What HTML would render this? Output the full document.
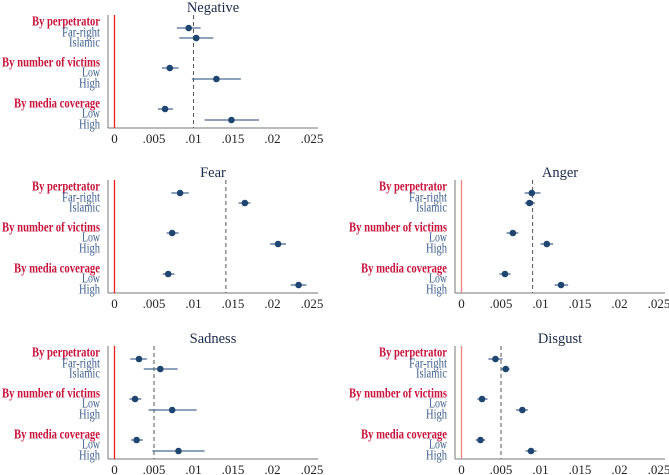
<!DOCTYPE html>
<html><head><meta charset="utf-8">
<style>
html,body{margin:0;padding:0;background:#fff;}
svg{display:block;font-family:"Liberation Serif",serif;}
</style></head>
<body>
<svg id="chart" width="669" height="475" viewBox="0 0 669 475"></svg>
<script>
const groups = ["By perpetrator","By number of victims","By media coverage"];
const categories = [["Far-right","Islamic"],["Low","High"],["Low","High"]];
const xTicks = [0,0.005,0.01,0.015,0.02,0.025];
const xTickLabels = ["0",".005",".01",".015",".02",".025"];
const panelTitles = ["Negative","Fear","Anger","Sadness","Disgust"];
const refLines = [0.01,0.0141,0.009,0.005,0.005];
const estNegative = [0.00939,0.01035,0.0070,0.0129,0.0064,0.0148];
const loNegative  = [0.0079,0.0082,0.0060,0.0098,0.0055,0.0114];
const hiNegative  = [0.0109,0.0125,0.0081,0.0160,0.0074,0.0183];
const estFear = [0.0083,0.0165,0.0073,0.0207,0.0068,0.0233];
const loFear  = [0.0072,0.0157,0.0066,0.0197,0.0061,0.0223];
const hiFear  = [0.0094,0.0172,0.0081,0.0217,0.0076,0.0243];
const estAnger = [0.0089,0.0086,0.0065,0.0108,0.0055,0.0126];
const loAnger  = [0.0080,0.0080,0.0057,0.0100,0.0048,0.0118];
const hiAnger  = [0.0100,0.0093,0.0072,0.0116,0.0062,0.0135];
const estSadness = [0.0031,0.0058,0.0026,0.0073,0.0028,0.0081];
const loSadness  = [0.0020,0.0037,0.0019,0.0043,0.0021,0.0048];
const hiSadness  = [0.0041,0.0080,0.0034,0.0104,0.0036,0.0114];
const estDisgust = [0.0043,0.0056,0.0026,0.0077,0.0024,0.0088];
const loDisgust  = [0.0034,0.0050,0.0020,0.0069,0.0018,0.0081];
const hiDisgust  = [0.0052,0.0061,0.0033,0.0084,0.0030,0.0095];
const estAll=[estNegative,estFear,estAnger,estSadness,estDisgust];
const loAll=[loNegative,loFear,loAnger,loSadness,loDisgust];
const hiAll=[hiNegative,hiFear,hiAnger,hiSadness,hiDisgust];

const NS="http://www.w3.org/2000/svg";
const svg=document.getElementById('chart');
function mk(tag,attrs,parent,text){const e=document.createElementNS(NS,tag);for(const k in attrs)e.setAttribute(k,attrs[k]);if(text!==undefined)e.textContent=text;parent.appendChild(e);return e;}
const widths={"By perpetrator":68,"By number of victims":98,"By media coverage":86,"Far-right":38,"Islamic":31,"Low":18,"High":21};
const panelPos=[[0,0],[0,165],[347,165],[0,331],[347,331]];
const headerY=[21,62,103];
const catY=[[32,42],[72,83],[113,124]];
panelTitles.forEach((title,p)=>{
  const [ox,oy]=panelPos[p];
  const g=mk('g',{transform:`translate(${ox},${oy})`},svg);
  
  
  const x0=114.5, x1=312;
  const sx=v=>x0+(v/0.025)*(x1-x0);
  const sy=(gi,ci)=>catY[gi][ci]-4;
  const t=mk('text',{x:213,y:12,'text-anchor':'middle','font-size':14.5,fill:'#1a2a4a'},g,title);
  
  
  const ya=mk('line',{x1:108,y1:15,x2:108,y2:128,stroke:'#777','stroke-width':1},g);
  
  
  const xa=mk('line',{x1:108,y1:128,x2:318,y2:128,stroke:'#777','stroke-width':1},g);
  
  
  xTicks.forEach((v,i)=>{
    const tl=mk('text',{x:sx(v),y:143,'text-anchor':'middle','font-size':13,fill:'#222'},g,xTickLabels[i]);
    
    
  });
  const z=mk('line',{x1:sx(0),y1:15,x2:sx(0),y2:128,stroke:p>=2&&p!==3?'#f08080':'#e8201c','stroke-width':1.3},g);
  
  
  const r=mk('line',{x1:sx(refLines[p]),y1:15,x2:sx(refLines[p]),y2:128,stroke:'#555','stroke-width':1,'stroke-dasharray':'4,3'},g);
  
  
  groups.forEach((gn,gi)=>{
    const h=mk('text',{x:100-widths[gn],y:headerY[gi]+4.5,'font-size':14,'font-weight':'bold',fill:'#c8143c',textLength:widths[gn],lengthAdjust:'spacingAndGlyphs'},g,gn);
    
    
    categories[gi].forEach((cn,ci)=>{
      const c=mk('text',{x:100-widths[cn],y:catY[gi][ci]+4.5,'font-size':14,fill:'#3e5f8e',textLength:widths[cn],lengthAdjust:'spacingAndGlyphs'},g,cn);
      
      
      const k=gi*2+ci, y=sy(gi,ci);
      const ci_=mk('line',{x1:sx(loAll[p][k]),y1:y,x2:sx(hiAll[p][k]),y2:y,stroke:'#4a6a94','stroke-width':1.3},g);
      
      
      const d=mk('circle',{cx:sx(estAll[p][k]),cy:y,r:3.3,fill:'#1f4670'},g);
      
      
    });
  });
});
</script>
</body></html>
